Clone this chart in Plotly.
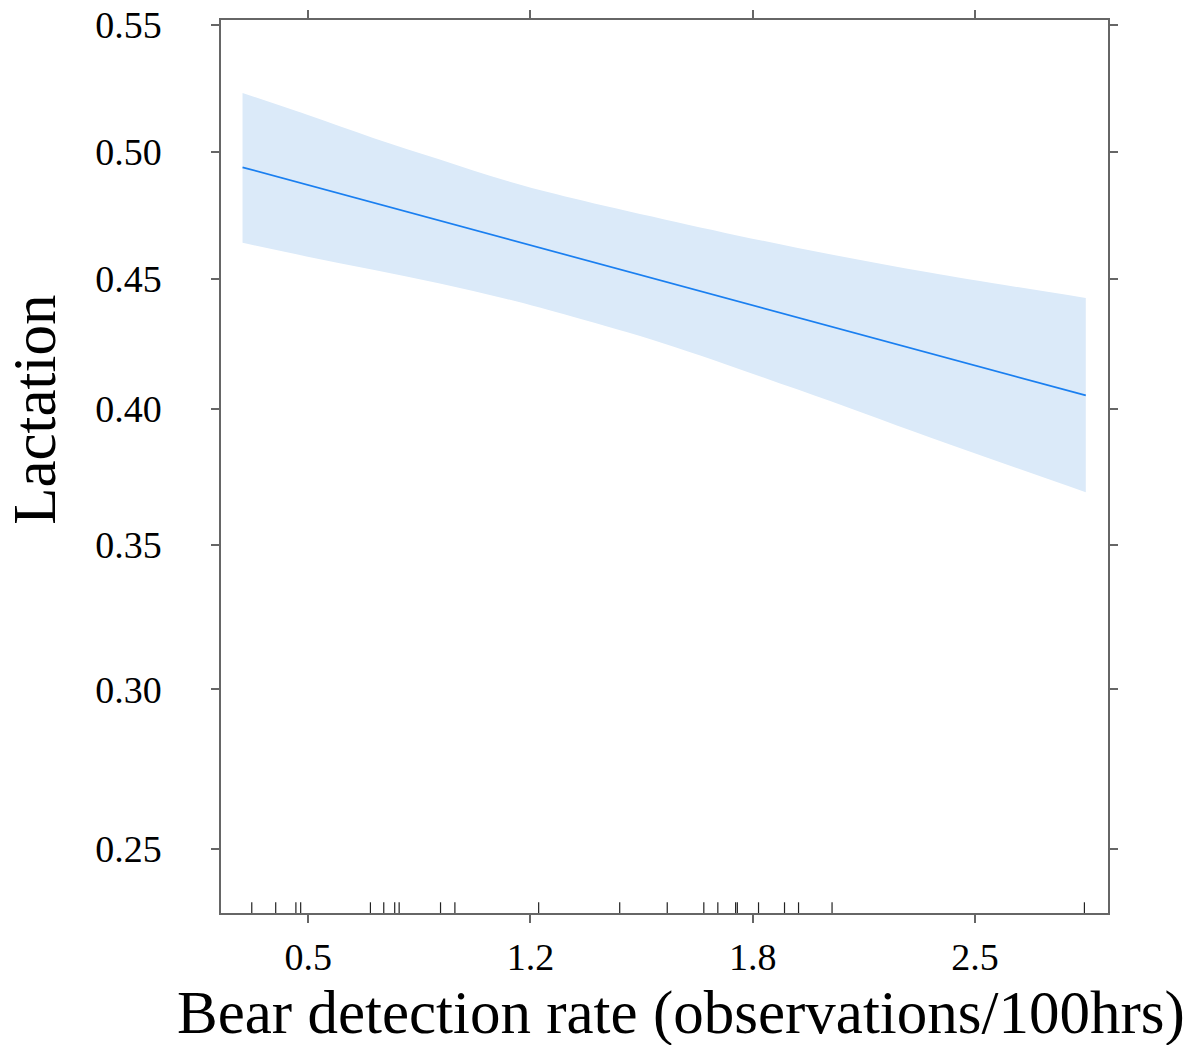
import numpy as np
import plotly.graph_objects as go

# ---- data ----
x_vals = [0.308, 0.495, 0.690, 0.885, 1.080, 1.274, 1.542, 1.932, 2.321, 2.774]
fit = [0.4939, 0.4871, 0.4800, 0.4729, 0.4659, 0.4588, 0.4491, 0.4351, 0.4212, 0.4052]
upper = [0.5232, 0.5147, 0.5055, 0.4970, 0.4886, 0.4817, 0.4734, 0.4622, 0.4525, 0.4427]
lower = [0.4642, 0.4589, 0.4537, 0.4483, 0.4423, 0.4354, 0.4250, 0.4074, 0.3892, 0.3690]
rug_x = [0.335, 0.405, 0.464, 0.478, 0.682, 0.721, 0.753, 0.766, 0.887, 0.929,
         1.174, 1.411, 1.550, 1.657, 1.698, 1.750, 1.755, 1.817, 1.893, 1.934,
         2.032, 2.770]
x_tick_vals = [0.5, 1.15, 1.8, 2.45]
x_tick_text = ["0.5", "1.2", "1.8", "2.5"]
y_tick_probs = [0.25, 0.30, 0.35, 0.40, 0.45, 0.50, 0.55]
y_tick_text = ["0.25", "0.30", "0.35", "0.40", "0.45", "0.50", "0.55"]
x_title = "Bear detection rate (observations/100hrs)"
y_title = "Lactation"


def logit(p):
    p = np.asarray(p, dtype=float)
    return np.log(p / (1 - p))


FONT = "Liberation Serif, Times New Roman, serif"
AX = "#666666"

fig = go.Figure()
fig.add_trace(go.Scatter(
    x=x_vals, y=logit(lower), mode="lines", line=dict(width=0, shape="spline"),
    hoverinfo="skip", showlegend=False))
fig.add_trace(go.Scatter(
    x=x_vals, y=logit(upper), mode="lines", line=dict(width=0, shape="spline"),
    fill="tonexty", fillcolor="#dbeaf9", hoverinfo="skip", showlegend=False))
fig.add_trace(go.Scatter(
    x=x_vals, y=logit(fit), mode="lines",
    line=dict(color="#1a7ff0", width=1.7), showlegend=False))

for rx in rug_x:
    fig.add_shape(type="line", xref="x", yref="y domain",
                  x0=rx, x1=rx, y0=0, y1=0.012,
                  line=dict(color="#222222", width=1.2))

fig.update_xaxes(range=[0.245, 2.839], tickvals=x_tick_vals, ticktext=x_tick_text,
                 showgrid=False, zeroline=False, showline=True, linecolor=AX,
                 linewidth=1.5, mirror="ticks", ticks="outside", ticklen=8,
                 tickwidth=1.5, tickcolor=AX, ticklabelstandoff=2, automargin=False,
                 tickfont=dict(family=FONT, size=38, color="black"))
fig.update_yaxes(range=[-1.1996, 0.2078], tickvals=list(logit(y_tick_probs)),
                 ticktext=y_tick_text,
                 showgrid=False, zeroline=False, showline=True, linecolor=AX,
                 linewidth=1.5, mirror="ticks", ticks="outside", ticklen=8,
                 tickwidth=1.5, tickcolor=AX, ticklabelstandoff=42, automargin=False,
                 tickfont=dict(family=FONT, size=38, color="black"))

fig.add_annotation(text=x_title, xref="paper", yref="paper", x=0.5186, y=-0.1117,
                   xanchor="center", yanchor="middle", showarrow=False,
                   font=dict(family=FONT, size=61, color="black"))
fig.add_annotation(text=y_title, xref="paper", yref="paper", x=-0.2106, y=0.5637,
                   xanchor="center", yanchor="middle", textangle=-90, showarrow=False,
                   font=dict(family=FONT, size=61, color="black"))

fig.update_layout(width=1193, height=1045, autosize=False,
                  margin=dict(l=221, r=85, t=20, b=132),
                  paper_bgcolor="white", plot_bgcolor="white")

fig.write_html("out.html")
